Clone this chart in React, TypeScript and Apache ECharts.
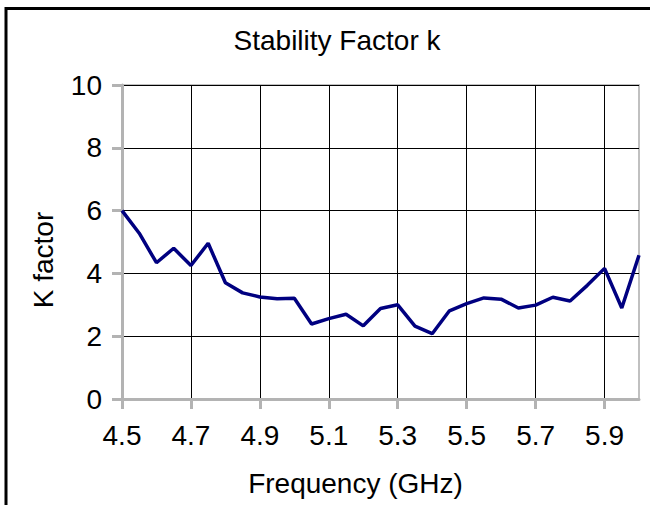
import React, { useEffect, useRef } from "react";
import * as echarts from "echarts";

const frequencies = [
  "4.50", "4.55", "4.60", "4.65", "4.70", "4.75", "4.80", "4.85", "4.90", "4.95",
  "5.00", "5.05", "5.10", "5.15", "5.20", "5.25", "5.30", "5.35", "5.40", "5.45",
  "5.50", "5.55", "5.60", "5.65", "5.70", "5.75", "5.80", "5.85", "5.90", "5.95",
  "6.00",
];
const kFactor = [
  6.0, 5.28, 4.34, 4.8, 4.25, 4.96, 3.7, 3.38, 3.25, 3.19,
  3.21, 2.39, 2.56, 2.7, 2.33, 2.88, 3.0, 2.32, 2.08, 2.81,
  3.04, 3.22, 3.18, 2.9, 2.99, 3.24, 3.12, 3.62, 4.16, 2.9,
  4.58,
];
const titleText = "Stability Factor k";
const xName = "Frequency (GHz)";
const yName = "K factor";

const FONT = "'Liberation Sans', Arial, sans-serif";

export default function App() {
  const ref = useRef<HTMLDivElement>(null);
  useEffect(() => {
    if (!ref.current) return;
    const chart = echarts.init(ref.current, undefined, { renderer: "svg" });
    chart.setOption({
      animation: false,
      backgroundColor: "#ffffff",
      textStyle: { fontFamily: FONT },
      title: {
        text: titleText,
        left: 332,
        textAlign: "center",
        top: 21,
        textStyle: { fontFamily: FONT, fontSize: 28, fontWeight: "normal", color: "#000" },
      },
      grid: {
        left: 122,
        right: 11,
        top: 85,
        bottom: 106,
        show: true,
        borderColor: "#c0c0c0",
        borderWidth: 2,
        backgroundColor: "transparent",
      },
      xAxis: {
        type: "category",
        data: frequencies,
        boundaryGap: false,
        name: xName,
        nameLocation: "middle",
        nameGap: 70,
        nameTextStyle: { fontFamily: FONT, fontSize: 28, color: "#000", padding: [0, 50, 0, 0] },
        axisLine: { show: true, lineStyle: { color: "#b3b3b3", width: 3 } },
        axisTick: { show: true, interval: 3, length: 10, lineStyle: { color: "#b3b3b3", width: 3 } },
        axisLabel: {
          interval: 3,
          margin: 22,
          fontFamily: FONT,
          fontSize: 28,
          color: "#000",
          formatter: (v: string) => Number(v).toFixed(1),
        },
        splitLine: { show: true, interval: 3, lineStyle: { color: "#000", width: 1 } },
      },
      yAxis: {
        type: "value",
        min: 0,
        max: 10,
        interval: 2,
        name: yName,
        nameLocation: "middle",
        nameGap: 65,
        nameTextStyle: { fontFamily: FONT, fontSize: 28, color: "#000", padding: [0, 36, 0, 0] },
        axisLine: { show: true, lineStyle: { color: "#b3b3b3", width: 3 } },
        axisTick: { show: true, length: 10, lineStyle: { color: "#b3b3b3", width: 3 } },
        axisLabel: { margin: 20, fontFamily: FONT, fontSize: 28, color: "#000" },
        splitLine: { show: true, lineStyle: { color: "#000", width: 1 } },
      },
      graphic: [
        {
          type: "rect",
          shape: { x: 6, y: 8.5, width: 700, height: 600 },
          style: { fill: "none", stroke: "#000", lineWidth: 3 },
          silent: true,
          z: 100,
        },
      ],
      series: [
        {
          type: "line",
          data: kFactor,
          showSymbol: false,
          symbol: "none",
          lineStyle: { color: "#000080", width: 3.5 },
          itemStyle: { color: "#000080" },
        },
      ],
    });
    return () => chart.dispose();
  }, []);
  return (
    <div
      ref={ref}
      style={{ position: "fixed", left: 0, top: 0, width: 650, height: 505 }}
    />
  );
}
